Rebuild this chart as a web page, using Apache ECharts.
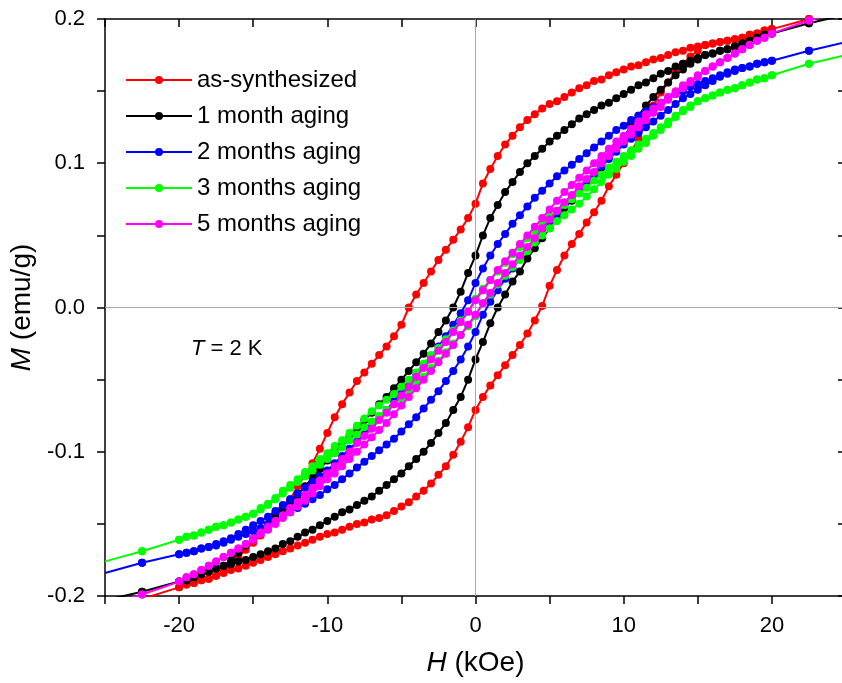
<!DOCTYPE html>
<html lang="en">
<head>
  <meta charset="UTF-8" />
  <title>M-H loops, T = 2 K</title>
  <script src="https://cdn.jsdelivr.net/npm/echarts@6/dist/echarts.min.js"></script>
  <style>
    body {
      margin: 0;
      background: #fff;
    }
    #chart {
      width: 842px;
      height: 683px;
    }
  </style>
</head>
<body>
  <div id="chart"></div>

  <script>
    // field sweep, kOe: down branch (+25 -> -25) and up branch (-25 -> +25)
    const H_DOWN = [25, 22.5, 20, 19.5, 19, 18.5, 18, 17.5, 17, 16.5, 16, 15.5, 15, 14.5, 14, 13.5, 13, 12.5, 12, 11.5, 11, 10.5, 10, 9.5, 9, 8.5, 8, 7.5, 7, 6.5, 6, 5.5, 5, 4.5, 4, 3.5, 3, 2.5, 2, 1.5, 1, 0.5, 0, -0.5, -1, -1.5, -2, -2.5, -3, -3.5, -4, -4.5, -5, -5.5, -6, -6.5, -7, -7.5, -8, -8.5, -9, -9.5, -10, -10.5, -11, -11.5, -12, -12.5, -13, -13.5, -14, -14.5, -15, -15.5, -16, -16.5, -17, -17.5, -18, -18.5, -19, -19.5, -20, -22.5, -25];
    const H_UP = [-25, -22.5, -20, -19.5, -19, -18.5, -18, -17.5, -17, -16.5, -16, -15.5, -15, -14.5, -14, -13.5, -13, -12.5, -12, -11.5, -11, -10.5, -10, -9.5, -9, -8.5, -8, -7.5, -7, -6.5, -6, -5.5, -5, -4.5, -4, -3.5, -3, -2.5, -2, -1.5, -1, -0.5, 0, 0.5, 1, 1.5, 2, 2.5, 3, 3.5, 4, 4.5, 5, 5.5, 6, 6.5, 7, 7.5, 8, 8.5, 9, 9.5, 10, 10.5, 11, 11.5, 12, 12.5, 13, 13.5, 14, 14.5, 15, 15.5, 16, 16.5, 17, 17.5, 18, 18.5, 19, 19.5, 20, 22.5, 25];

    // M, emu/g
    const redDown = [0.207, 0.200, 0.193, 0.192, 0.190, 0.189, 0.187, 0.186, 0.185, 0.184, 0.183, 0.182, 0.181, 0.180, 0.178, 0.177, 0.175, 0.173, 0.172, 0.170, 0.168, 0.167, 0.165, 0.163, 0.161, 0.158, 0.157, 0.154, 0.152, 0.149, 0.146, 0.143, 0.141, 0.138, 0.134, 0.130, 0.125, 0.119, 0.113, 0.105, 0.096, 0.086, 0.072, 0.062, 0.054, 0.047, 0.040, 0.033, 0.025, 0.017, 0.009, 0.000, -0.012, -0.020, -0.027, -0.033, -0.039, -0.045, -0.051, -0.059, -0.067, -0.076, -0.087, -0.098, -0.108, -0.116, -0.124, -0.133, -0.141, -0.147, -0.153, -0.158, -0.163, -0.168, -0.173, -0.178, -0.182, -0.186, -0.188, -0.189, -0.191, -0.192, -0.194, -0.202, -0.209];
    const redUp = [-0.209, -0.202, -0.194, -0.192, -0.191, -0.189, -0.188, -0.186, -0.184, -0.182, -0.181, -0.179, -0.177, -0.175, -0.173, -0.171, -0.169, -0.167, -0.165, -0.163, -0.161, -0.159, -0.157, -0.156, -0.154, -0.152, -0.150, -0.149, -0.147, -0.146, -0.144, -0.141, -0.138, -0.135, -0.131, -0.127, -0.122, -0.116, -0.110, -0.102, -0.093, -0.083, -0.071, -0.062, -0.054, -0.047, -0.040, -0.033, -0.026, -0.018, -0.009, 0.001, 0.015, 0.026, 0.036, 0.044, 0.051, 0.059, 0.066, 0.074, 0.084, 0.092, 0.100, 0.108, 0.117, 0.128, 0.140, 0.149, 0.156, 0.163, 0.169, 0.174, 0.178, 0.182, 0.183, 0.184, 0.185, 0.186, 0.187, 0.189, 0.190, 0.192, 0.193, 0.200, 0.207];

    const blackDown = [0.203, 0.197, 0.190, 0.189, 0.187, 0.185, 0.183, 0.181, 0.179, 0.178, 0.176, 0.175, 0.173, 0.171, 0.169, 0.167, 0.164, 0.162, 0.159, 0.156, 0.154, 0.151, 0.148, 0.145, 0.142, 0.140, 0.137, 0.134, 0.131, 0.127, 0.123, 0.119, 0.115, 0.110, 0.105, 0.100, 0.094, 0.087, 0.080, 0.071, 0.062, 0.050, 0.036, 0.024, 0.011, 0.000, -0.009, -0.017, -0.025, -0.032, -0.038, -0.044, -0.050, -0.056, -0.062, -0.067, -0.073, -0.078, -0.084, -0.089, -0.095, -0.100, -0.106, -0.112, -0.118, -0.124, -0.130, -0.135, -0.140, -0.145, -0.150, -0.155, -0.160, -0.165, -0.170, -0.175, -0.179, -0.181, -0.183, -0.185, -0.187, -0.189, -0.190, -0.197, -0.203];
    const blackUp = [-0.203, -0.197, -0.190, -0.189, -0.187, -0.185, -0.183, -0.181, -0.179, -0.178, -0.176, -0.175, -0.173, -0.171, -0.169, -0.167, -0.164, -0.162, -0.159, -0.156, -0.154, -0.151, -0.148, -0.145, -0.142, -0.140, -0.137, -0.134, -0.131, -0.127, -0.123, -0.119, -0.115, -0.110, -0.105, -0.100, -0.094, -0.087, -0.080, -0.071, -0.062, -0.050, -0.036, -0.024, -0.011, 0.000, 0.009, 0.018, 0.025, 0.034, 0.041, 0.048, 0.055, 0.062, 0.069, 0.074, 0.080, 0.086, 0.092, 0.097, 0.104, 0.111, 0.118, 0.126, 0.133, 0.140, 0.146, 0.151, 0.156, 0.161, 0.165, 0.169, 0.172, 0.175, 0.176, 0.178, 0.179, 0.181, 0.183, 0.185, 0.187, 0.189, 0.190, 0.197, 0.203];

    const blueDown = [0.184, 0.178, 0.171, 0.170, 0.169, 0.167, 0.166, 0.165, 0.163, 0.161, 0.159, 0.157, 0.155, 0.153, 0.150, 0.148, 0.145, 0.142, 0.139, 0.136, 0.133, 0.130, 0.126, 0.123, 0.119, 0.115, 0.111, 0.107, 0.103, 0.099, 0.095, 0.091, 0.086, 0.081, 0.076, 0.070, 0.064, 0.058, 0.051, 0.044, 0.036, 0.027, 0.017, 0.005, -0.004, -0.012, -0.020, -0.027, -0.034, -0.040, -0.047, -0.053, -0.059, -0.065, -0.071, -0.077, -0.082, -0.088, -0.093, -0.098, -0.103, -0.108, -0.113, -0.117, -0.121, -0.125, -0.129, -0.133, -0.137, -0.141, -0.145, -0.148, -0.151, -0.154, -0.157, -0.160, -0.162, -0.164, -0.166, -0.167, -0.169, -0.170, -0.171, -0.177, -0.184];
    const blueUp = [-0.184, -0.177, -0.171, -0.170, -0.169, -0.167, -0.166, -0.165, -0.163, -0.161, -0.159, -0.157, -0.155, -0.153, -0.150, -0.148, -0.145, -0.142, -0.139, -0.136, -0.133, -0.130, -0.126, -0.123, -0.119, -0.115, -0.111, -0.107, -0.103, -0.099, -0.095, -0.091, -0.086, -0.081, -0.076, -0.070, -0.064, -0.058, -0.051, -0.044, -0.036, -0.027, -0.017, -0.005, 0.004, 0.012, 0.020, 0.027, 0.034, 0.040, 0.047, 0.053, 0.059, 0.065, 0.071, 0.077, 0.082, 0.088, 0.093, 0.098, 0.103, 0.108, 0.113, 0.117, 0.121, 0.125, 0.129, 0.133, 0.137, 0.141, 0.145, 0.148, 0.151, 0.154, 0.157, 0.160, 0.162, 0.164, 0.166, 0.167, 0.169, 0.170, 0.171, 0.178, 0.184];

    const greenDown = [0.175, 0.169, 0.161, 0.159, 0.158, 0.156, 0.154, 0.152, 0.151, 0.149, 0.147, 0.145, 0.143, 0.140, 0.137, 0.133, 0.129, 0.125, 0.121, 0.117, 0.113, 0.109, 0.105, 0.101, 0.097, 0.092, 0.088, 0.083, 0.079, 0.075, 0.071, 0.067, 0.063, 0.058, 0.053, 0.048, 0.042, 0.037, 0.031, 0.025, 0.019, 0.013, 0.006, -0.003, -0.009, -0.016, -0.022, -0.028, -0.033, -0.039, -0.045, -0.050, -0.055, -0.060, -0.064, -0.068, -0.072, -0.077, -0.082, -0.087, -0.092, -0.096, -0.101, -0.105, -0.110, -0.114, -0.119, -0.123, -0.127, -0.132, -0.136, -0.139, -0.143, -0.145, -0.147, -0.149, -0.151, -0.152, -0.154, -0.156, -0.158, -0.159, -0.161, -0.169, -0.176];
    const greenUp = [-0.176, -0.169, -0.161, -0.159, -0.158, -0.156, -0.154, -0.152, -0.151, -0.149, -0.147, -0.145, -0.143, -0.140, -0.137, -0.133, -0.129, -0.125, -0.121, -0.117, -0.113, -0.109, -0.105, -0.101, -0.097, -0.092, -0.088, -0.083, -0.079, -0.075, -0.071, -0.067, -0.063, -0.058, -0.053, -0.048, -0.042, -0.037, -0.031, -0.025, -0.019, -0.013, -0.006, 0.003, 0.009, 0.016, 0.022, 0.028, 0.033, 0.039, 0.045, 0.050, 0.055, 0.060, 0.064, 0.068, 0.072, 0.077, 0.082, 0.087, 0.092, 0.096, 0.101, 0.105, 0.110, 0.114, 0.119, 0.123, 0.127, 0.132, 0.136, 0.139, 0.143, 0.145, 0.147, 0.149, 0.151, 0.152, 0.154, 0.156, 0.158, 0.159, 0.161, 0.169, 0.175];

    const magentaDown = [0.207, 0.199, 0.190, 0.187, 0.185, 0.182, 0.179, 0.176, 0.173, 0.170, 0.167, 0.164, 0.161, 0.157, 0.154, 0.150, 0.146, 0.142, 0.138, 0.134, 0.129, 0.124, 0.119, 0.115, 0.110, 0.105, 0.100, 0.095, 0.090, 0.085, 0.080, 0.074, 0.068, 0.062, 0.056, 0.050, 0.044, 0.038, 0.032, 0.026, 0.019, 0.012, 0.005, -0.003, -0.010, -0.017, -0.024, -0.030, -0.036, -0.042, -0.048, -0.055, -0.061, -0.067, -0.073, -0.078, -0.084, -0.089, -0.094, -0.100, -0.105, -0.110, -0.115, -0.120, -0.125, -0.130, -0.135, -0.139, -0.144, -0.148, -0.152, -0.156, -0.160, -0.164, -0.167, -0.170, -0.173, -0.176, -0.179, -0.182, -0.185, -0.187, -0.190, -0.199, -0.207];
    const magentaUp = [-0.207, -0.199, -0.190, -0.187, -0.185, -0.182, -0.179, -0.176, -0.173, -0.170, -0.167, -0.164, -0.161, -0.157, -0.154, -0.150, -0.146, -0.142, -0.138, -0.134, -0.129, -0.124, -0.119, -0.115, -0.110, -0.105, -0.100, -0.095, -0.090, -0.085, -0.080, -0.074, -0.068, -0.062, -0.056, -0.050, -0.044, -0.038, -0.032, -0.026, -0.019, -0.012, -0.005, 0.003, 0.010, 0.017, 0.024, 0.030, 0.036, 0.042, 0.048, 0.055, 0.061, 0.067, 0.073, 0.078, 0.084, 0.089, 0.094, 0.100, 0.105, 0.110, 0.115, 0.120, 0.125, 0.130, 0.135, 0.139, 0.144, 0.148, 0.152, 0.156, 0.160, 0.164, 0.167, 0.170, 0.173, 0.176, 0.179, 0.182, 0.185, 0.187, 0.190, 0.199, 0.207];

    const SAMPLES = [
      { name: 'as-synthesized', color: '#ff0000', down: redDown, up: redUp },
      { name: '1 month aging', color: '#000000', down: blackDown, up: blackUp },
      { name: '2 months aging', color: '#0000ff', down: blueDown, up: blueUp },
      { name: '3 months aging', color: '#00ff00', down: greenDown, up: greenUp },
      { name: '5 months aging', color: '#ff00ff', down: magentaDown, up: magentaUp }
    ];

    const FONT = 'Arial, "Liberation Sans", Helvetica, sans-serif';
    const chart = echarts.init(document.getElementById('chart'));

    function loop(down, up) {
      const pts = H_DOWN.map((h, i) => [h, down[i]]);
      return pts.concat(H_UP.map((h, i) => [h, up[i]]));
    }

    const axisLine = { show: true, onZero: false, lineStyle: { color: '#000', width: 1.5 } };
    const tickStyle = { color: '#000', width: 1.5 };

    const series = SAMPLES.map((s, k) => ({
      name: s.name,
      type: 'line',
      data: loop(s.down, s.up),
      symbol: 'circle',
      symbolSize: v => (Math.abs(v[0]) >= 25 ? 0 : 8),
      showSymbol: true,
      lineStyle: { color: s.color, width: 2 },
      itemStyle: { color: s.color, borderWidth: 0 },
      z: 3 + k,
      clip: true
    }));

    // thin grey lines through the origin
    series.unshift({
      type: 'line',
      data: [],
      silent: true,
      z: 1,
      markLine: {
        silent: true,
        symbol: ['none', 'none'],
        label: { show: false },
        lineStyle: { color: '#aaaaaa', width: 1, type: 'solid' },
        data: [{ xAxis: 0 }, { yAxis: 0 }]
      }
    });

    chart.setOption({
      animation: false,
      backgroundColor: '#fff',
      textStyle: { fontFamily: FONT },
      grid: { left: 105, right: -4, top: 19, bottom: 87, containLabel: false, outerBoundsMode: 'none' },
      title: {
        text: '{i|T} = 2 K',
        left: 186,
        top: 333,
        textStyle: {
          fontSize: 22, fontWeight: 'normal', color: '#000', fontFamily: FONT,
          rich: { i: { fontStyle: 'italic', fontSize: 22, color: '#000', fontFamily: FONT } }
        }
      },
      legend: {
        orient: 'vertical',
        left: 120,
        top: 63,
        itemWidth: 66,
        itemHeight: 10,
        itemGap: 12,
        data: SAMPLES.map(s => s.name),
        textStyle: { fontSize: 24, lineHeight: 24, color: '#000', fontFamily: FONT }
      },
      xAxis: [
        {
          type: 'value',
          position: 'bottom',
          min: -25,
          max: 25,
          interval: 5,
          axisLine: axisLine,
          axisTick: { show: true, inside: false, length: 8, lineStyle: tickStyle },
          axisLabel: {
            formatter: v => (v % 10 === 0 ? String(v) : ''),
            color: '#000', fontSize: 22, margin: 19, fontFamily: FONT
          },
          splitLine: { show: false },
          name: '{i|H} (kOe)',
          nameLocation: 'middle',
          nameGap: 53,
          nameTextStyle: {
            fontSize: 28, color: '#000', fontFamily: FONT,
            rich: { i: { fontStyle: 'italic', fontSize: 28, color: '#000', fontFamily: FONT } }
          }
        },
        {
          type: 'value',
          position: 'top',
          min: -25,
          max: 25,
          interval: 5,
          axisLine: axisLine,
          axisTick: { show: true, inside: true, length: 8, lineStyle: tickStyle },
          axisLabel: { show: false },
          splitLine: { show: false }
        }
      ],
      yAxis: [
        {
          type: 'value',
          position: 'left',
          min: -0.2,
          max: 0.2,
          interval: 0.05,
          axisLine: axisLine,
          axisTick: { show: true, inside: false, length: 8, lineStyle: tickStyle },
          axisLabel: {
            formatter: v => (Math.round(v * 100) % 10 === 0 ? v.toFixed(1) : ''),
            color: '#000', fontSize: 22, margin: 20, fontFamily: FONT
          },
          splitLine: { show: false },
          name: '{i|M} (emu/g)',
          nameLocation: 'middle',
          nameGap: 53,
          nameTextStyle: {
            fontSize: 28, color: '#000', fontFamily: FONT,
            rich: { i: { fontStyle: 'italic', fontSize: 28, color: '#000', fontFamily: FONT } }
          }
        },
        {
          type: 'value',
          position: 'right',
          min: -0.2,
          max: 0.2,
          interval: 0.05,
          axisLine: axisLine,
          axisTick: { show: true, inside: true, length: 8, lineStyle: tickStyle },
          axisLabel: { show: false },
          splitLine: { show: false }
        }
      ],
      series: series
    });
  </script>
</body>
</html>
